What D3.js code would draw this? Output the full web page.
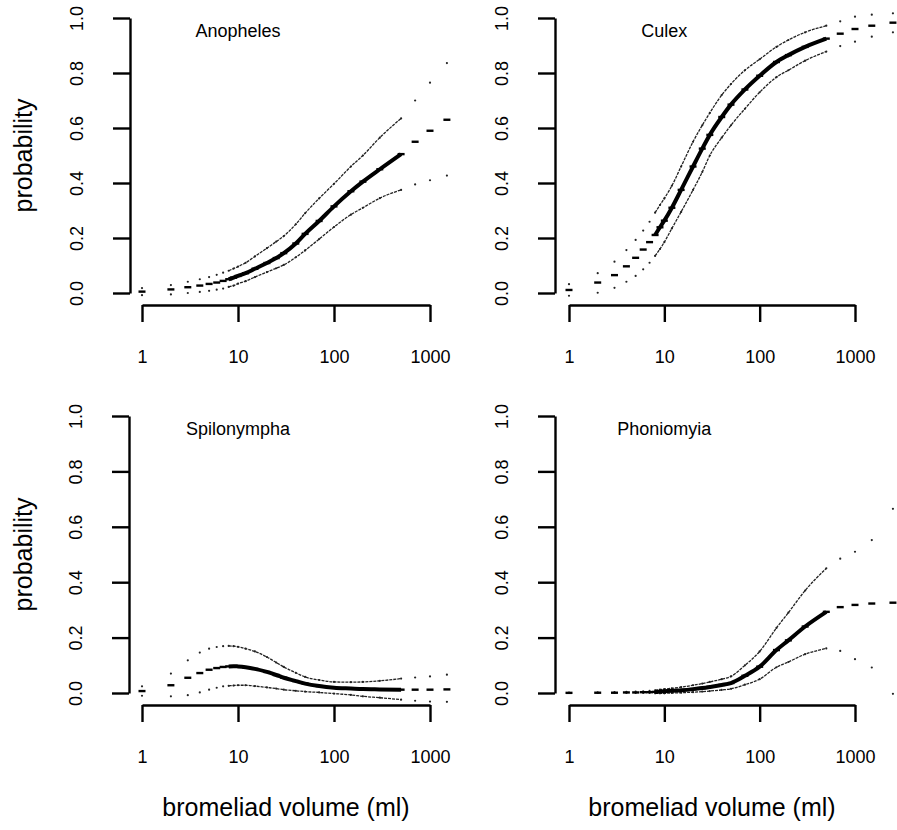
<!DOCTYPE html>
<html>
<head>
<meta charset="utf-8">
<script src="https://cdn.jsdelivr.net/npm/d3@7"></script>
<style>
  body { margin: 0; background: #fff; }
  text { font-family: "Liberation Sans", Arial, Helvetica, sans-serif; fill: #000; }
</style>
</head>
<body>
<svg width="897" height="830"></svg>
<script>
// bromeliad volumes (ml) where the predictions are plotted
var volumes = [1, 2, 3, 4, 5, 6, 7, 8, 9, 10, 12, 15, 20, 25, 30, 40, 50, 70, 100, 150, 200, 300, 500, 700, 1000, 1500, 2500];

// predicted probability and upper / lower bounds, one array per curve
var anophelesMean  = [0.005, 0.013, 0.021, 0.027, 0.033, 0.038, 0.044, 0.050, 0.056, 0.062, 0.072, 0.088, 0.109, 0.127, 0.145, 0.180, 0.215, 0.262, 0.315, 0.370, 0.405, 0.450, 0.505, 0.550, 0.590, 0.630, 0.680];
var anophelesUpper = [0.018, 0.029, 0.041, 0.050, 0.058, 0.066, 0.074, 0.081, 0.089, 0.096, 0.110, 0.133, 0.163, 0.187, 0.207, 0.250, 0.290, 0.344, 0.397, 0.460, 0.500, 0.565, 0.635, 0.700, 0.765, 0.836, 0.930];
var anophelesLower = [-0.008, -0.005, 0.000, 0.004, 0.008, 0.012, 0.016, 0.022, 0.027, 0.034, 0.043, 0.058, 0.076, 0.090, 0.102, 0.130, 0.155, 0.196, 0.240, 0.285, 0.310, 0.345, 0.375, 0.395, 0.410, 0.427, 0.430];

var culexMean  = [0.011, 0.038, 0.065, 0.097, 0.128, 0.158, 0.185, 0.211, 0.239, 0.263, 0.310, 0.375, 0.460, 0.525, 0.575, 0.640, 0.685, 0.740, 0.790, 0.840, 0.865, 0.895, 0.925, 0.943, 0.960, 0.972, 0.983];
var culexUpper = [0.032, 0.072, 0.114, 0.156, 0.193, 0.227, 0.259, 0.292, 0.320, 0.344, 0.390, 0.460, 0.550, 0.610, 0.655, 0.720, 0.760, 0.810, 0.850, 0.895, 0.920, 0.948, 0.972, 0.988, 1.005, 1.012, 1.017];
var culexLower = [-0.010, 0.001, 0.019, 0.041, 0.062, 0.086, 0.110, 0.135, 0.160, 0.185, 0.235, 0.295, 0.375, 0.440, 0.500, 0.565, 0.610, 0.670, 0.730, 0.785, 0.810, 0.845, 0.878, 0.898, 0.914, 0.932, 0.948];

var spilonymphaMean  = [0.007, 0.028, 0.055, 0.072, 0.084, 0.090, 0.094, 0.096, 0.097, 0.096, 0.093, 0.087, 0.076, 0.065, 0.055, 0.043, 0.034, 0.025, 0.019, 0.016, 0.014, 0.013, 0.012, 0.012, 0.012, 0.013, 0.014];
var spilonymphaUpper = [0.024, 0.070, 0.118, 0.146, 0.160, 0.166, 0.169, 0.170, 0.169, 0.167, 0.160, 0.150, 0.130, 0.110, 0.094, 0.073, 0.058, 0.047, 0.040, 0.039, 0.040, 0.044, 0.052, 0.056, 0.060, 0.066, 0.075];
var spilonymphaLower = [-0.010, -0.012, -0.008, 0.002, 0.012, 0.019, 0.024, 0.026, 0.027, 0.028, 0.028, 0.025, 0.020, 0.016, 0.012, 0.008, 0.005, 0.002, -0.002, -0.007, -0.012, -0.017, -0.024, -0.028, -0.031, -0.032, -0.035];

var phoniomyiaMean  = [0.0005, 0.001, 0.001, 0.002, 0.002, 0.003, 0.003, 0.004, 0.005, 0.006, 0.008, 0.010, 0.014, 0.018, 0.022, 0.029, 0.036, 0.062, 0.095, 0.155, 0.190, 0.240, 0.293, 0.310, 0.318, 0.323, 0.326];
var phoniomyiaUpper = [0.001, 0.002, 0.003, 0.004, 0.005, 0.006, 0.008, 0.010, 0.012, 0.014, 0.017, 0.021, 0.028, 0.034, 0.040, 0.050, 0.060, 0.100, 0.150, 0.235, 0.290, 0.370, 0.450, 0.485, 0.510, 0.552, 0.665];
var phoniomyiaLower = [0, 0, 0, 0, 0, 0, 0, -0.001, -0.001, -0.001, 0, 0.001, 0.003, 0.005, 0.007, 0.011, 0.015, 0.030, 0.050, 0.093, 0.112, 0.140, 0.161, 0.152, 0.122, 0.092, -0.003];

var species = ["Anopheles", "Culex", "Spilonympha", "Phoniomyia"];
var yTicks = [0, 0.2, 0.4, 0.6, 0.8, 1.0];
var xTicks = [1, 10, 100, 1000];
var yTitle = "probability";
var xTitle = "bromeliad volume (ml)";

var curves = [
  [anophelesMean, anophelesUpper, anophelesLower],
  [culexMean, culexUpper, culexLower],
  [spilonymphaMean, spilonymphaUpper, spilonymphaLower],
  [phoniomyiaMean, phoniomyiaUpper, phoniomyiaLower]
];

// panel frames (pixel layout)
var panels = [
  { axisX: 130, x0: 142, x1: 430, top: 18, bottom: 293, clipRight: 453, row: 0, col: 0 },
  { axisX: 555, x0: 569, x1: 855, top: 18, bottom: 293, clipRight: 897, row: 0, col: 1 },
  { axisX: 129, x0: 142, x1: 430, top: 416, bottom: 693, clipRight: 453, row: 1, col: 0 },
  { axisX: 555, x0: 569, x1: 855, top: 416, bottom: 693, clipRight: 897, row: 1, col: 1 }
];

var svg = d3.select("svg");

panels.forEach(function(p, i) {
  var x = d3.scaleLog().domain([1, 1000]).range([p.x0, p.x1]);
  var y = d3.scaleLinear().domain([0, 1]).range([p.bottom, p.top]);
  var axisY = p.bottom + 12;

  var g = svg.append("g");

  // y axis
  var ya = g.append("g")
    .attr("transform", "translate(" + p.axisX + ",0)")
    .call(d3.axisLeft(y).tickValues(yTicks).tickSize(17).tickSizeOuter(0).tickFormat(d3.format(".1f")));
  ya.select(".domain").attr("stroke-width", 2.4);
  ya.selectAll(".tick line").attr("stroke-width", 2.4);
  ya.selectAll(".tick text")
    .attr("x", 0).attr("y", 0).attr("dy", "0.35em")
    .attr("text-anchor", "middle")
    .attr("transform", "translate(-53,0) rotate(-90)")
    .style("font-size", "18px")
    .attr("font-family", null);

  // x axis
  var xa = g.append("g")
    .attr("transform", "translate(0," + axisY + ")")
    .call(d3.axisBottom(x).tickValues(xTicks).tickSize(17).tickSizeOuter(0).tickFormat(d3.format("d")));
  xa.select(".domain").attr("stroke-width", 2.4);
  xa.selectAll(".tick line").attr("stroke-width", 2.4);
  xa.selectAll(".tick text")
    .attr("y", 58).attr("dy", 0)
    .style("font-size", "18px")
    .attr("font-family", null);

  // clip to the plot region
  var clipId = "clip" + i;
  svg.append("clipPath").attr("id", clipId)
    .append("rect")
    .attr("x", p.axisX).attr("y", p.top - 12)
    .attr("width", p.clipRight - p.axisX).attr("height", axisY - p.top + 12);

  var plot = g.append("g").attr("clip-path", "url(#" + clipId + ")");

  var mean = curves[i][0], upper = curves[i][1], lower = curves[i][2];
  var pts = volumes.map(function(v, k) {
    return { v: v, mean: mean[k], upper: upper[k], lower: lower[k] };
  });
  var dense = pts.filter(function(d) { return d.v >= 8 && d.v <= 500; });

  function lineFor(key) {
    return d3.line()
      .x(function(d) { return x(d.v); })
      .y(function(d) { return y(d[key]); })
      .curve(d3.curveMonotoneX);
  }

  // bounds
  ["upper", "lower"].forEach(function(key) {
    plot.append("path")
      .datum(dense)
      .attr("fill", "none")
      .attr("stroke", "#222")
      .attr("stroke-width", 1.3)
      .attr("stroke-dasharray", "3,1")
      .attr("d", lineFor(key));
    plot.selectAll(".dot-" + key)
      .data(pts)
      .enter().append("circle")
      .attr("cx", function(d) { return x(d.v); })
      .attr("cy", function(d) { return y(d[key]); })
      .attr("r", 1.1)
      .attr("fill", "#222");
  });

  // mean
  plot.append("path")
    .datum(dense)
    .attr("fill", "none")
    .attr("stroke", "#000")
    .attr("stroke-width", 4)
    .attr("d", lineFor("mean"));
  plot.selectAll(".dash")
    .data(pts)
    .enter().append("line")
    .attr("x1", function(d) { return x(d.v) - 3.5; })
    .attr("x2", function(d) { return x(d.v) + 3.5; })
    .attr("y1", function(d) { return y(d.mean); })
    .attr("y2", function(d) { return y(d.mean); })
    .attr("stroke", "#000")
    .attr("stroke-width", 2.4);

  // species name
  g.append("text")
    .attr("x", x(10)).attr("y", p.top + 19)
    .attr("text-anchor", "middle")
    .style("font-size", "18px")
    .text(species[i]);

  // axis titles
  if (p.col === 0) {
    g.append("text")
      .attr("transform", "translate(23," + ((p.top + p.bottom) / 2) + ") rotate(-90)")
      .attr("dy", "0.35em")
      .attr("text-anchor", "middle")
      .style("font-size", "25px")
      .text(yTitle);
  }
  if (p.row === 1) {
    g.append("text")
      .attr("x", (p.x0 + p.x1) / 2).attr("y", 816)
      .attr("text-anchor", "middle")
      .style("font-size", "25px")
      .text(xTitle);
  }
});
</script>
</body>
</html>
